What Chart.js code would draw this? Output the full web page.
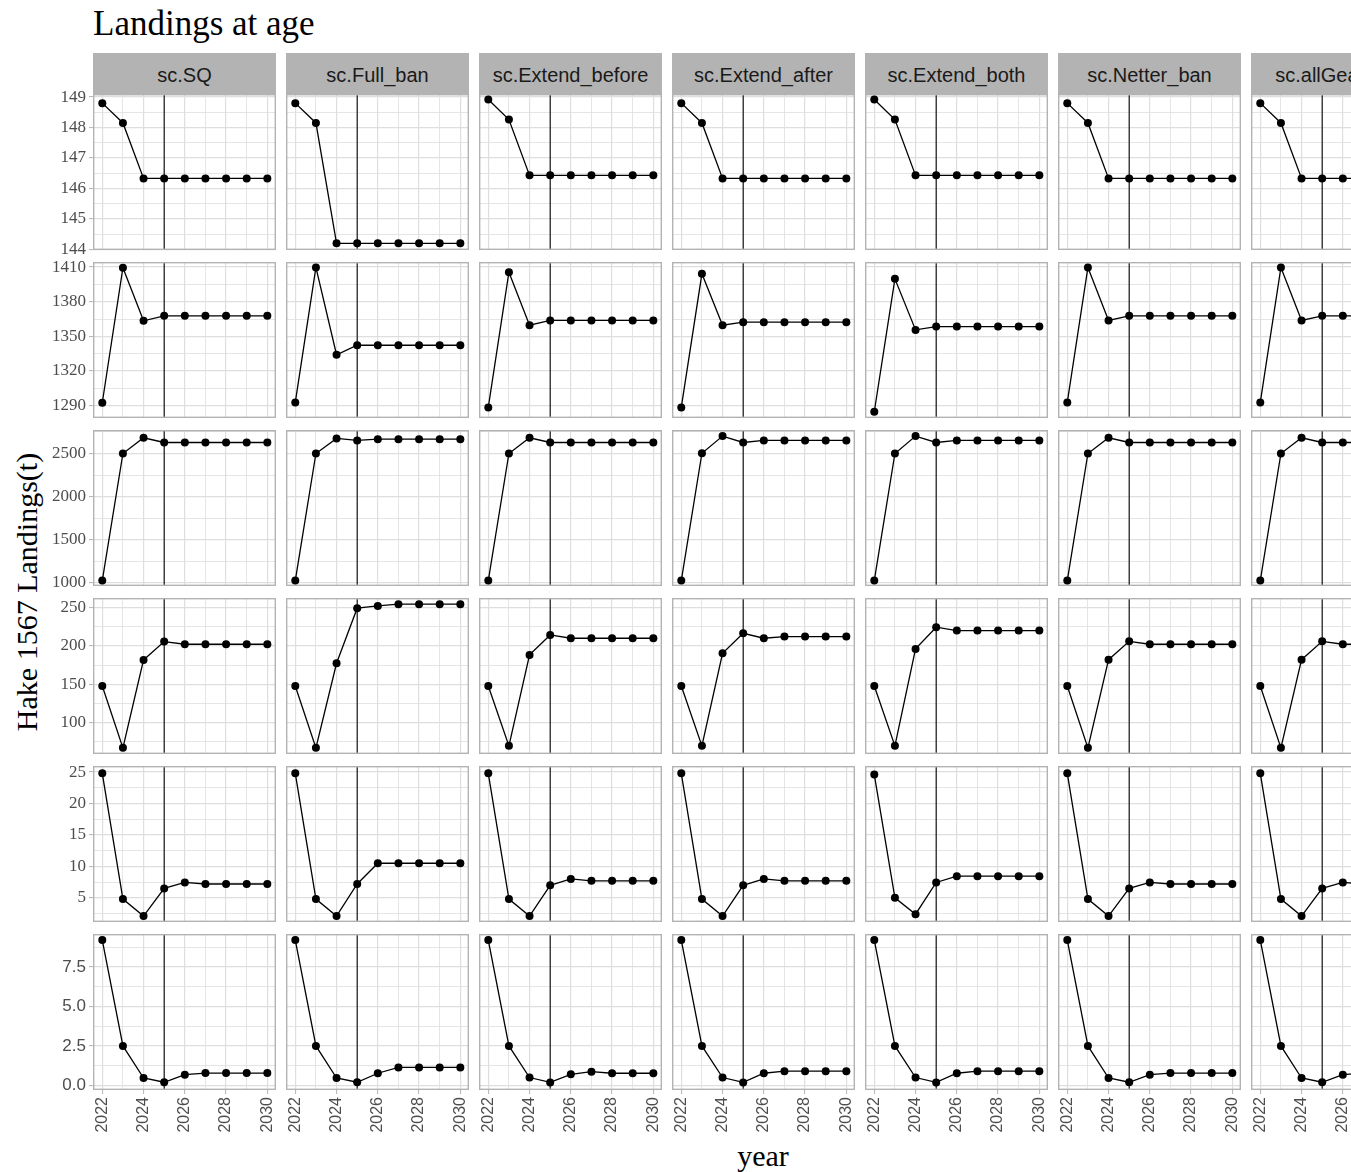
<!DOCTYPE html>
<html lang="en">
<head>
    <meta charset="UTF-8">
    <title>Landings at age</title>
    <script src="https://cdn.jsdelivr.net/npm/chart.js"></script>
    <style>
        body {
            margin: 0;
            background: #fff;
            overflow: hidden;
        }
        #fig {
            position: relative;
            width: 1351px;
            height: 1172px;
            overflow: hidden;
        }
        #fig canvas {
            position: absolute;
        }
        .title {
            position: absolute;
            left: 93px;
            top: 7px;
            font-family: "Liberation Serif", "Times New Roman", serif;
            font-size: 35px;
            line-height: 34px;
            color: #000;
            white-space: nowrap;
        }
        .ytitle {
            position: absolute;
            width: 400px;
            left: -173px;
            top: 577px;
            text-align: center;
            font-family: "Liberation Serif", "Times New Roman", serif;
            font-size: 30px;
            line-height: 30px;
            transform: rotate(-90deg);
            white-space: nowrap;
        }
        .xtitle {
            position: absolute;
            left: 563px;
            width: 400px;
            top: 1141px;
            text-align: center;
            font-family: "Liberation Serif", "Times New Roman", serif;
            font-size: 30px;
            line-height: 30px;
        }
        .strip {
            position: absolute;
            top: 53px;
            height: 41px;
            box-sizing: border-box;
            padding-top: 3px;
            background: #B3B3B3;
            color: #1A1A1A;
            text-align: center;
            font-family: "Liberation Sans", Arial, sans-serif;
            font-size: 20px;
            line-height: 38px;
            white-space: nowrap;
            overflow: hidden;
        }
    </style>
</head>
<body>

<div id="fig">
    <div class="title">Landings at age</div>
    <div class="ytitle">Hake 1567 Landings(t)</div>
    <div class="xtitle">year</div>
</div>

<script>
// data
const years = [2022, 2023, 2024, 2025, 2026, 2027, 2028, 2029, 2030];
const scenarios = ['sc.SQ', 'sc.Full_ban', 'sc.Extend_before', 'sc.Extend_after', 'sc.Extend_both', 'sc.Netter_ban', 'sc.allGear_ban'];
const vlineYear = 2025;

// one array per facet row, one series per scenario (same order as scenarios)
const landRow1 = [
    [148.8, 148.15, 146.33, 146.33, 146.33, 146.33, 146.33, 146.33, 146.33],
    [148.8, 148.15, 144.2, 144.2, 144.2, 144.2, 144.2, 144.2, 144.2],
    [148.92, 148.26, 146.43, 146.43, 146.43, 146.43, 146.43, 146.43, 146.43],
    [148.8, 148.15, 146.33, 146.33, 146.33, 146.33, 146.33, 146.33, 146.33],
    [148.92, 148.26, 146.43, 146.43, 146.43, 146.43, 146.43, 146.43, 146.43],
    [148.8, 148.15, 146.33, 146.33, 146.33, 146.33, 146.33, 146.33, 146.33],
    [148.8, 148.15, 146.33, 146.33, 146.33, 146.33, 146.33, 146.33, 146.33]
];
const landRow2 = [
    [1292.5, 1409.5, 1363.5, 1367.8, 1367.8, 1367.8, 1367.8, 1367.8, 1367.8],
    [1292.8, 1409.7, 1334.1, 1342.3, 1342.3, 1342.3, 1342.3, 1342.3, 1342.3],
    [1288.5, 1405.6, 1359.7, 1363.8, 1363.8, 1363.8, 1363.8, 1363.8, 1363.8],
    [1288.5, 1404.2, 1359.7, 1362.3, 1362.3, 1362.3, 1362.3, 1362.3, 1362.3],
    [1284.7, 1399.8, 1355.6, 1358.5, 1358.5, 1358.5, 1358.5, 1358.5, 1358.5],
    [1292.8, 1409.7, 1363.8, 1367.8, 1367.8, 1367.8, 1367.8, 1367.8, 1367.8],
    [1292.8, 1409.7, 1363.8, 1367.8, 1367.8, 1367.8, 1367.8, 1367.8, 1367.8]
];
const landRow3 = [
    [1025, 2500, 2683, 2628, 2628, 2628, 2628, 2628, 2628],
    [1025, 2500, 2675, 2652, 2667, 2667, 2667, 2667, 2667],
    [1025, 2500, 2683, 2628, 2628, 2628, 2628, 2628, 2628],
    [1025, 2503, 2702, 2628, 2652, 2652, 2652, 2652, 2652],
    [1025, 2500, 2702, 2628, 2652, 2652, 2652, 2652, 2652],
    [1025, 2500, 2683, 2628, 2628, 2628, 2628, 2628, 2628],
    [1025, 2500, 2683, 2628, 2628, 2628, 2628, 2628, 2628]
];
const landRow4 = [
    [147.8, 67, 181.7, 205.6, 202.2, 202.2, 202.2, 202.2, 202.2],
    [147.8, 67, 177.4, 249.2, 252.2, 254.4, 254.4, 254.4, 254.4],
    [147.8, 69.6, 188.3, 214.3, 210, 210, 210, 210, 210],
    [147.8, 69.6, 190.4, 216.5, 210, 212.2, 212.2, 212.2, 212.2],
    [147.8, 69.6, 196.1, 224.4, 220, 220, 220, 220, 220],
    [147.8, 67, 182, 206, 202.2, 202.2, 202.2, 202.2, 202.2],
    [147.8, 67, 182, 206, 202.2, 202.2, 202.2, 202.2, 202.2]
];
const landRow5 = [
    [24.8, 4.8, 2.1, 6.5, 7.45, 7.2, 7.2, 7.2, 7.2],
    [24.8, 4.8, 2.1, 7.2, 10.5, 10.5, 10.5, 10.5, 10.5],
    [24.8, 4.8, 2.1, 7.0, 8.0, 7.7, 7.7, 7.7, 7.7],
    [24.8, 4.8, 2.1, 7.0, 8.0, 7.7, 7.7, 7.7, 7.7],
    [24.6, 5.0, 2.4, 7.45, 8.45, 8.45, 8.45, 8.45, 8.45],
    [24.8, 4.8, 2.1, 6.5, 7.45, 7.2, 7.2, 7.2, 7.2],
    [24.8, 4.8, 2.1, 6.5, 7.45, 7.2, 7.2, 7.2, 7.2]
];
const landRow6 = [
    [9.2, 2.5, 0.47, 0.2, 0.68, 0.78, 0.78, 0.78, 0.78],
    [9.2, 2.5, 0.47, 0.2, 0.77, 1.14, 1.14, 1.14, 1.14],
    [9.2, 2.5, 0.5, 0.19, 0.7, 0.87, 0.77, 0.77, 0.77],
    [9.2, 2.5, 0.5, 0.19, 0.77, 0.9, 0.9, 0.9, 0.9],
    [9.2, 2.5, 0.5, 0.19, 0.77, 0.9, 0.9, 0.9, 0.9],
    [9.2, 2.5, 0.47, 0.2, 0.68, 0.78, 0.78, 0.78, 0.78],
    [9.2, 2.5, 0.47, 0.2, 0.68, 0.78, 0.78, 0.78, 0.78]
];

// y tick labels and ranges for each row (free y scales)
const yTickRow = [
    [144, 145, 146, 147, 148, 149],
    [1290, 1320, 1350, 1380, 1410],
    [1000, 1500, 2000, 2500],
    [100, 150, 200, 250],
    [5, 10, 15, 20, 25],
    [0, 2.5, 5, 7.5]
];
const yDecimals = [0, 0, 0, 0, 0, 1];
const yRangeRow = [
    [143.98, 149.1],
    [1279.3, 1414.4],
    [962, 2773],
    [59, 262.5],
    [1.16, 25.96],
    [-0.29, 9.58]
];
const xRange = [2021.55, 2030.42];

const rows = [landRow1, landRow2, landRow3, landRow4, landRow5, landRow6];

// layout
const panelW = 183, panelH = 156;
const colLeft = c => 93 + c * 193;
const rowTop = r => 94 + r * 168;
const gridCol = '#DEDEDE';
const tickFonts = ['Liberation Serif', 'Liberation Serif', 'Liberation Serif', 'Liberation Serif', 'Liberation Serif', 'Liberation Sans'];

const fig = document.getElementById('fig');

scenarios.forEach((name, c) => {
    const s = document.createElement('div');
    s.className = 'strip';
    s.style.left = colLeft(c) + 'px';
    s.style.width = panelW + 'px';
    s.textContent = name;
    fig.appendChild(s);
});

// vline at 2025 and grey panel border
const panelPlugin = {
    id: 'panel',
    beforeDatasetsDraw(chart) {
        const ctx = chart.ctx, a = chart.chartArea;
        const px = chart.scales.x.getPixelForValue(vlineYear);
        ctx.save();
        ctx.strokeStyle = '#000';
        ctx.lineWidth = 1.1;
        ctx.beginPath();
        ctx.moveTo(px, a.top);
        ctx.lineTo(px, a.bottom);
        ctx.stroke();
        ctx.strokeStyle = '#B3B3B3';
        ctx.lineWidth = 1.4;
        ctx.strokeRect(a.left + 0.7, a.top + 0.7, a.width - 1.4, a.height - 1.4);
        ctx.restore();
    }
};

// minor breaks half way between the majors (and beyond, if inside the range)
function withMinor(majors, range) {
    const step = majors[1] - majors[0];
    const out = [];
    const lo = majors[0] - step / 2, hi = majors[majors.length - 1] + step / 2;
    if (lo >= range[0]) out.push(lo);
    majors.forEach((m, i) => {
        out.push(m);
        if (i < majors.length - 1) out.push(m + step / 2);
    });
    if (hi <= range[1]) out.push(hi);
    return out;
}

rows.forEach((rowData, r) => {
    const majors = yTickRow[r];
    const allY = withMinor(majors, yRangeRow[r]);
    rowData.forEach((vals, c) => {
        const first = c === 0;
        const last = r === rows.length - 1;
        const padL = first ? 60 : 0;
        const padT = first ? 12 : 0;          // room for the top tick label
        const padB = last ? 60 : (first ? 12 : 0);

        const cv = document.createElement('canvas');
        cv.width = panelW + padL;
        cv.height = panelH + padT + padB;
        cv.style.left = (colLeft(c) - padL) + 'px';
        cv.style.top = (rowTop(r) - padT) + 'px';
        fig.appendChild(cv);

        new Chart(cv, {
            type: 'line',
            data: {
                datasets: [{
                    data: years.map((x, i) => ({ x: x, y: vals[i] })),
                    borderColor: '#000',
                    borderWidth: 1.3,
                    pointRadius: 4,
                    pointHoverRadius: 4,
                    pointBackgroundColor: '#000',
                    pointBorderWidth: 0,
                    tension: 0,
                    clip: false
                }]
            },
            options: {
                responsive: false,
                animation: false,
                events: [],
                layout: {
                    padding: { top: padT, bottom: last ? 0 : padB, left: 0, right: 0 },
                    autoPadding: false
                },
                plugins: { legend: { display: false }, tooltip: { enabled: false } },
                scales: {
                    x: {
                        type: 'linear',
                        min: xRange[0],
                        max: xRange[1],
                        afterBuildTicks: s => { s.ticks = years.map(v => ({ value: v })); },
                        afterFit: s => { s.height = last ? padB : 0; s.paddingLeft = 0; s.paddingRight = 0; },
                        border: { display: false },
                        grid: {
                            color: gridCol,
                            lineWidth: ctx => (ctx.tick && ctx.tick.value % 2 === 0) ? 1.2 : 0.8,
                            drawTicks: last,
                            tickLength: 4,
                            tickWidth: 1,
                            tickColor: ctx => (ctx.tick && ctx.tick.value % 2 === 0) ? '#B3B3B3' : 'rgba(0,0,0,0)'
                        },
                        ticks: {
                            display: last,
                            autoSkip: false,
                            maxRotation: 90,
                            minRotation: 90,
                            padding: 3,
                            color: '#4D4D4D',
                            font: { family: 'Liberation Sans', size: 16 },
                            callback: v => v % 2 === 0 ? String(v) : ''
                        }
                    },
                    y: {
                        type: 'linear',
                        min: yRangeRow[r][0],
                        max: yRangeRow[r][1],
                        afterBuildTicks: s => { s.ticks = allY.map(v => ({ value: v })); },
                        afterFit: s => { s.width = padL; s.paddingTop = 0; s.paddingBottom = 0; },
                        border: { display: false },
                        grid: {
                            color: gridCol,
                            lineWidth: ctx => (ctx.tick && majors.includes(ctx.tick.value)) ? 1.2 : 0.8,
                            drawTicks: first,
                            tickLength: 4,
                            tickWidth: 1,
                            tickColor: ctx => (ctx.tick && majors.includes(ctx.tick.value)) ? '#B3B3B3' : 'rgba(0,0,0,0)'
                        },
                        ticks: {
                            display: first,
                            autoSkip: false,
                            padding: 3,
                            color: '#4D4D4D',
                            font: { family: tickFonts[r], size: 17 },
                            callback: v => majors.includes(v) ? v.toFixed(yDecimals[r]) : ''
                        }
                    }
                }
            },
            plugins: [panelPlugin]
        });
    });
});
</script>

</body>
</html>
